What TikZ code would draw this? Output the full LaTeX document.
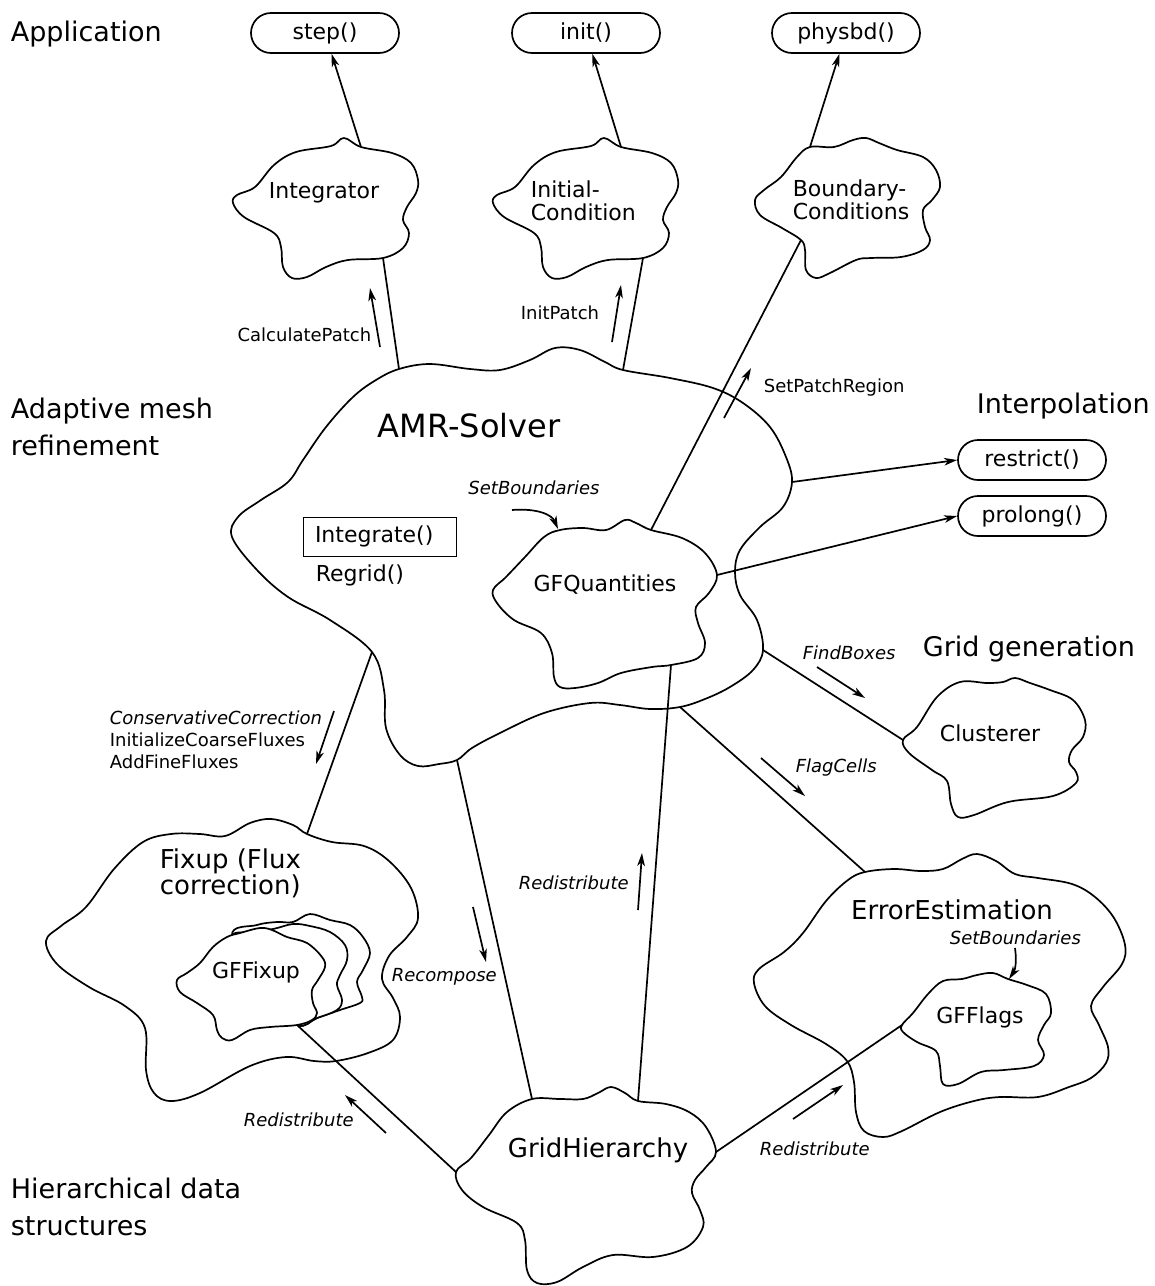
\documentclass[tikz,border=0pt]{standalone}
\usepackage{fontspec}
\setmainfont{DejaVu Sans}
\usetikzlibrary{arrows.meta}
\begin{document}
\begin{tikzpicture}[x=0.5pt, y=-0.5pt, line width=0.85pt,
    >={Stealth[length=6.5pt,width=3.8pt,inset=1.8pt]},
    cloud/.style={draw, line width=0.85pt},
    title/.style={font=\fontsize{13.5}{18.5}\selectfont, align=left, inner sep=0pt, anchor=west},
    bigtxt/.style={font=\fontsize{13}{13}\selectfont, align=left, inner sep=0pt},
    txt/.style={font=\fontsize{11}{11.5}\selectfont, align=left, inner sep=0pt},
    lbl/.style={font=\fontsize{9}{11}\selectfont, align=left, inner sep=0pt},
    msg/.style={font=\fontsize{9}{11}\selectfont\itshape, inner sep=0pt, anchor=west},
    pill/.style={draw, rounded corners=10pt, minimum width=74pt, minimum height=20pt, font=\fontsize{11}{12}\selectfont}]
  \useasboundingbox (0,0) rectangle (1155,1286);

  % Layer titles
  \node[title] (apptitle) at (10,34) {Application};
  \node[title] (amrtitle) at (10,427) {Adaptive mesh\\refinement};
  \node[title] (interptitle) at (976,406) {Interpolation};
  \node[title] (gridtitle) at (922,649) {Grid generation};
  \node[title] (hiertitle) at (10,1207) {Hierarchical data\\structures};

  % Application and interpolation functions
  \node[pill] (step) at (325,33) {step()};
  \node[pill] (init) at (586,33) {init()};
  \node[pill] (physbd) at (846,33) {physbd()};
  \node[pill] (restrict) at (1032,460) {restrict()};
  \node[pill] (prolong) at (1032,516) {prolong()};

  % Attach points on the cloud borders
  \coordinate (intgr-top) at (361,147);
  \coordinate (intgr-bot) at (383,258);
  \coordinate (inicond-top) at (621,147);
  \coordinate (inicond-bot) at (643,258);
  \coordinate (bndcond-top) at (810,147);
  \coordinate (bndcond-bot) at (801,240);
  \coordinate (amr-intgr) at (399,369);
  \coordinate (amr-inicond) at (623,370);
  \coordinate (amr-restrict) at (792,482);
  \coordinate (amr-clus) at (763,650);
  \coordinate (amr-errest) at (680,707);
  \coordinate (amr-gh) at (457,760);
  \coordinate (amr-fixup) at (372,652);
  \coordinate (gfq-bndcond) at (651,530);
  \coordinate (gfq-prolong) at (717,575);
  \coordinate (gfq-gh) at (671,665);
  \coordinate (clus-amr) at (903,740);
  \coordinate (errest-amr) at (865,872);
  \coordinate (flags-gh) at (902,1025);
  \coordinate (fixup-amr) at (307,834);
  \coordinate (gffix-gh) at (297,1025);
  \coordinate (gh-amr) at (532,1099);
  \coordinate (gh-gfq) at (638,1101);
  \coordinate (gh-flags) at (716,1152);
  \coordinate (gh-gffix) at (456,1172);

  % Clouds
  \foreach \dx in {0,260}
    \draw[cloud, shift={(\dx,0)}] plot[smooth cycle, tension=0.6] coordinates {
      (361,147) (392,153) (411,163) (418,180) (416,193) (407,207) (403,220) (409,233) (403,248)
      (383,258) (348,260) (326,267) (307,277) (292,278) (283,267) (281,247) (274,233) (244,217)
      (233,203) (237,195) (255,187) (274,165) (296,152) (331,146) (344,138)};
  \draw[cloud] plot[smooth cycle, tension=0.6] coordinates {
    (bndcond-top) (834,147) (853,140) (866,138) (879,143) (897,150) (923,157) (936,170) (940,187)
    (932,200) (923,210) (925,227) (930,240) (923,250) (901,257) (871,258) (856,260) (830,273)
    (816,278) (806,270) (805,250) (bndcond-bot) (782,228) (760,215) (755,200) (764,190) (781,177) (797,157)};
  \draw[cloud] plot[smooth cycle, tension=0.6] coordinates {
    (amr-intgr) (430,364) (470,369) (500,370) (530,360) (555,348) (580,350) (605,362) (amr-inicond)
    (670,378) (713,388) (743,403) (770,427) (786,457) (amr-restrict) (783,507) (760,527) (740,550)
    (735,572) (740,595) (757,620) (amr-clus) (753,670) (730,687) (705,699) (amr-errest) (650,709)
    (620,705) (590,703) (544,713) (500,733) (472,748) (amr-gh) (439,764) (418,766) (400,755)
    (386,728) (384,690) (amr-fixup) (330,620) (288,597) (257,570) (232,537) (238,517) (261,500)
    (288,482) (303,460) (326,427) (353,397) (376,380)};
  \draw[cloud] plot[smooth cycle, tension=0.6] coordinates {
    (560,530) (583,528) (606,530) (625,520) (636,523) (gfq-bndcond) (682,538) (705,553) (gfq-prolong)
    (709,593) (696,607) (698,623) (705,643) (698,658) (gfq-gh) (652,667) (621,673) (598,683)
    (575,688) (560,687) (554,677) (552,653) (541,633) (514,620) (497,603) (493,590) (506,577)
    (525,557) (544,537)};
  \draw[cloud] plot[smooth cycle, tension=0.6] coordinates {
    (clus-amr) (917,727) (937,697) (960,682) (987,683) (1003,682) (1015,678) (1030,683) (1050,690)
    (1073,700) (1085,720) (1083,737) (1072,750) (1069,762) (1076,772) (1076,783) (1053,796)
    (1008,802) (974,815) (958,817) (951,804) (947,781) (932,770) (909,753)};
  \draw[cloud] plot[smooth cycle, tension=0.6] coordinates {
    (errest-amr) (894,869) (921,871) (943,869) (962,859) (977,854) (996,861) (1015,874) (1038,878)
    (1072,884) (1095,897) (1114,918) (1125,945) (1122,964) (1103,987) (1091,1006) (1099,1025)
    (1108,1047) (1106,1063) (1091,1078) (1069,1087) (1038,1097) (1000,1097) (974,1101) (940,1112)
    (902,1131) (883,1137) (864,1131) (856,1112) (854,1082) (847,1061) (826,1044) (791,1025)
    (765,1006) (754,983) (759,969) (784,952) (803,933) (826,901) (848,880)};
  \draw[cloud] plot[smooth cycle, tension=0.6] coordinates {
    (943,981) (962,979) (977,975) (993,973) (1008,979) (1027,985) (1046,994) (1051,1013) (1044,1025)
    (1038,1040) (1044,1055) (1034,1066) (1004,1070) (981,1072) (958,1084) (943,1084) (940,1066)
    (936,1051) (917,1042) (903,1032) (flags-gh) (913,1013) (928,994)};
  \draw[cloud] plot[smooth cycle, tension=0.6] coordinates {
    (fixup-amr) (332,842) (364,846) (389,861) (411,888) (418,918) (407,937) (389,956) (382,979)
    (393,998) (400,1017) (393,1040) (368,1053) (336,1061) (314,1061) (286,1057) (250,1066)
    (200,1093) (171,1101) (154,1093) (146,1070) (145,1028) (125,1006) (89,987) (57,964) (46,941)
    (61,926) (86,907) (114,869) (143,842) (171,834) (200,834) (225,836) (250,823) (271,819) (293,825)};
  % GFFixup stack (back copies, then front)
  \draw[cloud, fill=white] plot[smooth cycle, tension=0.6] coordinates {
    (232,936) (257,925) (277,922) (293,922) (310,914) (330,920) (350,925) (363,937) (370,953)
    (363,970) (357,982) (362,997) (360,1003) (340,1010) (317,1018) (gffix-gh) (265,995)};
  \draw[cloud, fill=white] plot[smooth cycle, tension=0.6] coordinates {
    (232,940) (250,932) (273,929) (293,924) (310,926) (330,932) (345,945) (347,960) (340,975)
    (337,985) (342,1000) (337,1010) (317,1018) (gffix-gh) (262,998)};
  \draw[cloud, fill=white] plot[smooth cycle, tension=0.6] coordinates {
    (227,937) (240,933) (260,928) (272,930) (287,937) (307,943) (322,957) (325,967) (318,980)
    (312,990) (313,1003) (317,1013) (312,1020) (gffix-gh) (270,1027) (250,1030) (232,1040)
    (222,1038) (217,1030) (213,1015) (197,1003) (180,992) (177,980) (187,973) (200,963) (213,947)};
  \draw[cloud] plot[smooth cycle, tension=0.6] coordinates {
    (gh-amr) (560,1099) (583,1099) (598,1093) (611,1087) (625,1093) (gh-gfq) (666,1104) (689,1112)
    (706,1127) (gh-flags) (706,1167) (695,1180) (692,1193) (700,1210) (703,1227) (687,1247)
    (653,1257) (613,1255) (583,1267) (557,1282) (537,1283) (527,1270) (525,1240) (517,1223)
    (483,1207) (462,1190) (gh-gffix) (471,1158) (489,1135) (507,1112)};

  % Cloud texts
  \node[txt] (intgr) at (324,193) {Integrator};
  \node[txt, anchor=west] (inicond) at (530,201) {Initial-\\Condition};
  \node[txt, anchor=west] (bndcond) at (792,200) {Boundary-\\Conditions};
  \node[font=\fontsize{16}{16}\selectfont, inner sep=0pt] (amr) at (469,426) {AMR-Solver};
  \node[txt, draw, line width=0.4pt, text width=64.5pt, inner xsep=6pt, minimum height=19.5pt]
    (integrate) at (379.5,536.5) {Integrate()};
  \node[txt, anchor=west] (regrid) at (315,575) {Regrid()};
  \node[txt] (gfq) at (605,585) {GFQuantities};
  \node[txt] (clus) at (990,733) {Clusterer};
  \node[bigtxt] (errest) at (952,910) {ErrorEstimation};
  \node[txt] (flags) at (980,1017) {GFFlags};
  \node[bigtxt, anchor=west] (fixup) at (159,873) {Fixup (Flux\\correction)};
  \node[txt] (gffix) at (256,972) {GFFixup};
  \node[bigtxt] (gh) at (598,1150) {GridHierarchy};

  % Connections
  \draw[->] (intgr-top) -- (step);
  \draw[->] (inicond-top) -- (init);
  \draw[->] (bndcond-top) -- (physbd);
  \draw (intgr-bot) -- (amr-intgr);
  \draw (inicond-bot) -- (amr-inicond);
  \draw (bndcond-bot) -- (gfq-bndcond);
  \draw[->] (amr-restrict) -- (restrict.west);
  \draw[->] (gfq-prolong) -- (prolong.west);
  \draw (amr-clus) -- (clus-amr);
  \draw (amr-errest) -- (errest-amr);
  \draw (amr-fixup) -- (fixup-amr);
  \draw (amr-gh) -- (gh-amr);
  \draw (gfq-gh) -- (gh-gfq);
  \draw (gffix-gh) -- (gh-gffix);
  \draw (gh-flags) -- (flags-gh);

  % Message labels
  \node[lbl, anchor=east] (calclbl) at (372,335) {CalculatePatch};
  \node[lbl, anchor=west] (initlbl) at (520,313) {InitPatch};
  \node[lbl, anchor=west] (setprlbl) at (763,388) {SetPatchRegion};
  \node[msg, anchor=center] (setb1lbl) at (534,488) {SetBoundaries};
  \node[lbl, anchor=west] (conslbl) at (109,740) {\itshape ConservativeCorrection\\InitializeCoarseFluxes\\AddFineFluxes};
  \node[msg] (findlbl) at (802,653) {FindBoxes};
  \node[msg] (flaglbl) at (795,768) {FlagCells};
  \node[msg] (rd1lbl) at (518,883) {Redistribute};
  \node[msg] (recomplbl) at (391,977) {Recompose};
  \node[msg] (rd2lbl) at (243,1120) {Redistribute};
  \node[msg] (rd3lbl) at (759,1149) {Redistribute};
  \node[msg] (setb2lbl) at (949,938) {SetBoundaries};

  % Message arrows
  \foreach \n/\s/\e in {calc/{380,347}/{370,288}, initp/{612,342}/{621,285}, setpr/{724,418}/{751,368},
      cons/{334,711}/{316,764}, find/{817,667}/{865,698}, flag/{761,758}/{805,796},
      rd1/{638,910}/{642,853}, recomp/{473,907}/{486,962}, rd2/{386,1133}/{345,1095},
      rd3/{793,1119}/{843,1085}} {
    \coordinate (\n-s) at (\s);
    \coordinate (\n-e) at (\e);
    \draw[->] (\n-s) -- (\n-e);
  }
  \coordinate (setb1-s) at (512,510);
  \coordinate (setb1-e) at (558,529);
  \draw[->] (setb1-s) .. controls (538,508) and (552,515) .. (setb1-e);
  \coordinate (setb2-s) at (1015,948);
  \coordinate (setb2-e) at (1009,979);
  \draw[->] (setb2-s) .. controls (1017,962) and (1015,970) .. (setb2-e);
\end{tikzpicture}
\end{document}
